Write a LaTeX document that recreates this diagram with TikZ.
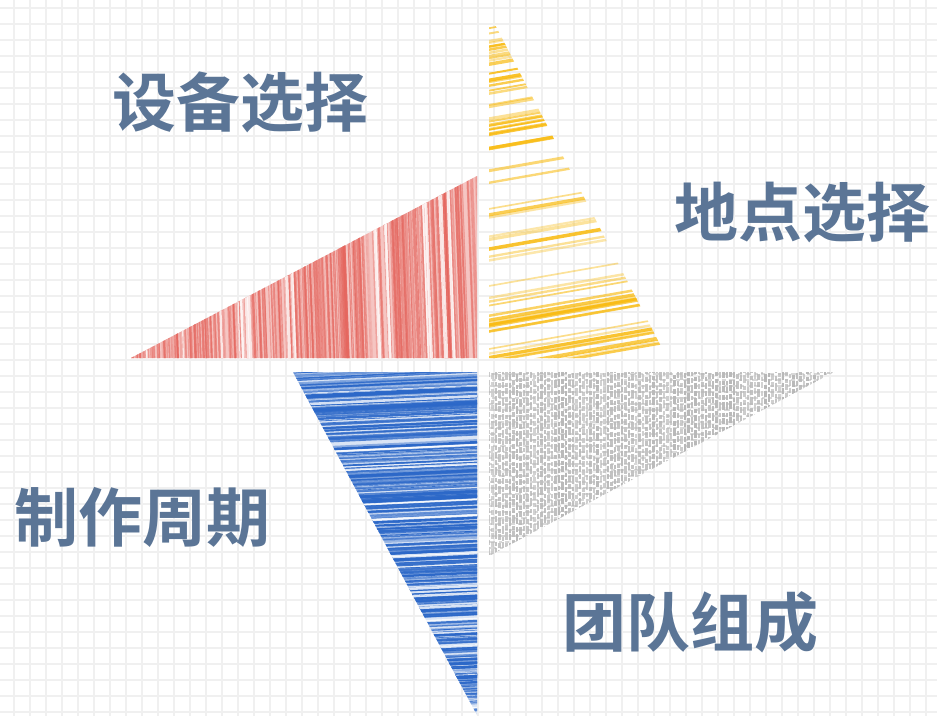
\documentclass[tikz,border=0pt]{standalone}
\usepackage{fontspec}
\newfontfamily\cjk{Noto Sans CJK SC}[BoldFont={Noto Sans CJK SC Bold}]
\definecolor{gridc}{HTML}{F0F0F0}
\definecolor{txt}{HTML}{5B7596}
\definecolor{redc}{HTML}{E5665E}
\definecolor{yelc}{HTML}{F9BC14}
\definecolor{bluc}{HTML}{2C68C8}
\definecolor{grac}{HTML}{B8B8B8}
\begin{document}
\begin{tikzpicture}[x=1pt,y=-1pt,
  lbl/.style={font=\cjk\bfseries\fontsize{64}{64}\selectfont, text=txt, inner sep=0pt},
  gridline/.style={gridc, line width=2pt}]
\useasboundingbox (0,0) rectangle (937,716);
\fill[white] (0,0) rectangle (937,716);
\pgfmathsetseed{1234}
% grid
\foreach \k in {0,...,57} \draw[gridline] (14+16*\k,0) -- (14+16*\k,716);
\foreach \k in {0,...,44} \draw[gridline] (0,8+16*\k) -- (937,8+16*\k);
% triangle corners
\coordinate (r1) at (131,358); \coordinate (r2) at (477,358); \coordinate (r3) at (477,176);
\coordinate (y1) at (489,13);  \coordinate (y2) at (489,358); \coordinate (y3) at (667,358);
\coordinate (b1) at (293,372); \coordinate (b2) at (477,372); \coordinate (b3) at (477,715);
\coordinate (g1) at (489,372); \coordinate (g2) at (834,372); \coordinate (g3) at (489,556);
% red
\begin{scope}
\clip (r1) -- (r2) -- (r3) -- cycle;
\fill[redc!38] (125,170) rectangle (480,362);
\foreach \i in {1,...,360}{
  \pgfmathsetmacro\xx{125+360*rnd}
  \pgfmathsetmacro\ww{0.4+2.0*rnd}
  \pgfmathsetmacro\oo{0.15+0.55*rnd}
  \draw[redc, line width=\ww pt, opacity=\oo] (\xx,362) -- (\xx-7,170);
}
\foreach \i in {1,...,16}{
  \pgfmathsetmacro\xx{140+340*rnd}
  \pgfmathsetmacro\ww{0.8+2.5*rnd}
  \draw[white, line width=\ww pt, opacity=0.8] (\xx,362) -- (\xx-7,170);
}
\end{scope}
% yellow
\begin{scope}
\clip (y1) -- (y2) -- (y3) -- cycle;
\foreach \i in {1,...,58}{
  \pgfmathsetmacro\yy{15+360*rnd}
  \pgfmathsetmacro\ww{1.6+2.0*rnd}
  \pgfmathsetmacro\oo{0.35+0.55*rnd}
  \draw[yelc, line width=\ww pt, opacity=\oo] (486,\yy) -- (680,\yy-34);
}
\foreach \yy in {362,368,374}{
  \draw[yelc, line width=2.5pt, opacity=0.75] (486,\yy) -- (680,\yy-34);
}
\end{scope}
% blue
\begin{scope}
\clip (b1) -- (b2) -- (b3) -- cycle;
\fill[bluc!18] (285,368) rectangle (480,716);
\foreach \i in {1,...,380}{
  \pgfmathsetmacro\yy{370+350*rnd}
  \pgfmathsetmacro\ww{0.4+2.2*rnd}
  \pgfmathsetmacro\oo{0.3+0.7*rnd}
  \draw[bluc, line width=\ww pt, opacity=\oo] (288,\yy) -- (480,\yy-9);
}
\foreach \i in {1,...,18}{
  \pgfmathsetmacro\yy{370+350*rnd}
  \pgfmathsetmacro\ww{0.8+2*rnd}
  \draw[white, line width=\ww pt, opacity=0.8] (288,\yy) -- (480,\yy-9);
}
\end{scope}
% gray
\begin{scope}
\clip (g1) -- (g2) -- (g3) -- cycle;
\foreach \x in {489,492.5,...,836}{
  \pgfmathsetmacro\ph{30*rnd}
  \pgfmathsetmacro\oo{0.6+0.4*rnd}
  \draw[grac, line width=2.8pt, opacity=\oo, dash pattern=on 5pt off 2pt on 8pt off 3pt on 4pt off 1.5pt on 6pt off 2.5pt, dash phase=\ph pt] (\x,370) -- (\x,560);
}
\foreach \y in {374,380,...,560}{
  \pgfmathsetmacro\ph{25*rnd}
  \draw[grac, line width=1.5pt, opacity=0.55, dash pattern=on 4pt off 3pt on 6pt off 4pt on 3pt off 3pt, dash phase=\ph pt] (486,\y) -- (836,\y);
}
\end{scope}
% labels
\node[lbl] (t1) at (240,102) {设备选择};
\node[lbl] (t2) at (802,212) {地点选择};
\node[lbl] (t3) at (142,517) {制作周期};
\node[lbl] (t4) at (690,622) {团队组成};
\end{tikzpicture}
\end{document}
